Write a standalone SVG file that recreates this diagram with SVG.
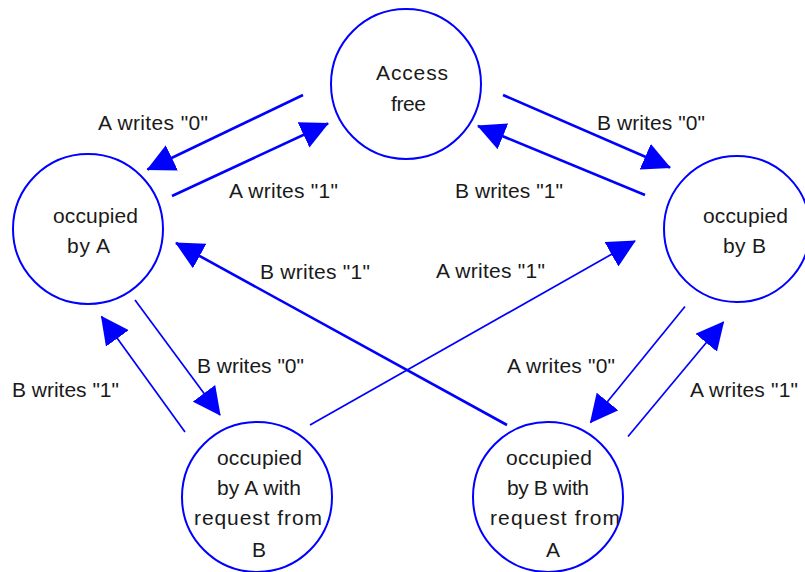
<svg xmlns="http://www.w3.org/2000/svg" width="805" height="572" viewBox="0 0 805 572">
  <style>
    .node { fill: #ffffff; stroke: #0000ff; stroke-width: 2; }
    .txt { font-family: "Liberation Sans Narrow", "Liberation Sans", Arial, sans-serif; font-size: 21px; fill: #1a1a1a; }
    .edge { stroke: #0000ff; fill: none; marker-end: url(#head); }
    .thick { stroke-width: 2.6; }
    .thin { stroke-width: 1.7; }
  </style>
  <defs>
    <!-- filled triangular arrowhead, fixed size regardless of line width -->
    <marker id="head" markerUnits="userSpaceOnUse" viewBox="0 0 28 28" markerWidth="28" markerHeight="28" refX="27" refY="14" orient="auto">
      <path d="M0,0 L28,14 L0,28 Z" fill="#0000ff"/>
    </marker>
  </defs>

  <rect width="805" height="572" fill="#ffffff"/>

  <!-- transitions -->
  <g id="connectors">
    <line class="edge thick" x1="303" y1="95" x2="147.5" y2="169.5"/>
    <line class="edge thick" x1="172" y1="196" x2="328" y2="123.5"/>
    <line class="edge thick" x1="503" y1="95" x2="670" y2="167.5"/>
    <line class="edge thick" x1="645" y1="195" x2="478" y2="126"/>
    <line class="edge thick" x1="507" y1="425" x2="176" y2="243"/>
    <line class="edge thin" x1="310" y1="425" x2="635" y2="241"/>
    <line class="edge thin" x1="185" y1="432" x2="101.5" y2="316.5"/>
    <line class="edge thin" x1="135" y1="300" x2="220" y2="415"/>
    <line class="edge thin" x1="685" y1="306.5" x2="590.5" y2="422.5"/>
    <line class="edge thin" x1="628" y1="436.5" x2="723.5" y2="322"/>
  </g>

  <!-- transition labels -->
  <g id="labels" class="txt">
    <text x="98" y="130" textLength="110" lengthAdjust="spacing">A writes "0"</text>
    <text x="229" y="198" textLength="109" lengthAdjust="spacing">A writes "1"</text>
    <text x="597" y="130" textLength="108" lengthAdjust="spacing">B writes "0"</text>
    <text x="455" y="198" textLength="108" lengthAdjust="spacing">B writes "1"</text>
    <text x="260" y="279" textLength="110" lengthAdjust="spacing">B writes "1"</text>
    <text x="436" y="278" textLength="109" lengthAdjust="spacing">A writes "1"</text>
    <text x="12" y="397" textLength="107" lengthAdjust="spacing">B writes "1"</text>
    <text x="197" y="373" textLength="107" lengthAdjust="spacing">B writes "0"</text>
    <text x="507" y="373" textLength="108" lengthAdjust="spacing">A writes "0"</text>
    <text x="690" y="397" textLength="108" lengthAdjust="spacing">A writes "1"</text>
  </g>

  <!-- states -->
  <g id="access-free">
    <circle class="node" cx="406" cy="84" r="75"/>
    <text class="txt" x="376" y="80" textLength="72" lengthAdjust="spacing">Access</text>
    <text class="txt" x="391" y="111" textLength="35" lengthAdjust="spacing">free</text>
  </g>
  <g id="occupied-by-a">
    <circle class="node" cx="88" cy="229" r="75"/>
    <text class="txt" x="53" y="223" textLength="85" lengthAdjust="spacing">occupied</text>
    <text class="txt" x="67" y="253" textLength="43" lengthAdjust="spacing">by A</text>
  </g>
  <g id="occupied-by-b">
    <circle class="node" cx="737" cy="229" r="73"/>
    <text class="txt" x="703" y="223" textLength="85" lengthAdjust="spacing">occupied</text>
    <text class="txt" x="723" y="253" textLength="43" lengthAdjust="spacing">by B</text>
  </g>
  <g id="a-with-request-from-b">
    <circle class="node" cx="257" cy="497" r="75"/>
    <text class="txt" x="217" y="465" textLength="85" lengthAdjust="spacing">occupied</text>
    <text class="txt" x="217" y="495" textLength="84" lengthAdjust="spacing">by A with</text>
    <text class="txt" x="194" y="525" textLength="128" lengthAdjust="spacing">request from</text>
    <text class="txt" x="252" y="557">B</text>
  </g>
  <g id="b-with-request-from-a">
    <circle class="node" cx="548" cy="497" r="75"/>
    <text class="txt" x="506" y="465" textLength="86" lengthAdjust="spacing">occupied</text>
    <text class="txt" x="507" y="495" textLength="82" lengthAdjust="spacing">by B with</text>
    <text class="txt" x="490" y="525" textLength="130" lengthAdjust="spacing">request from</text>
    <text class="txt" x="546" y="557">A</text>
  </g>
</svg>
